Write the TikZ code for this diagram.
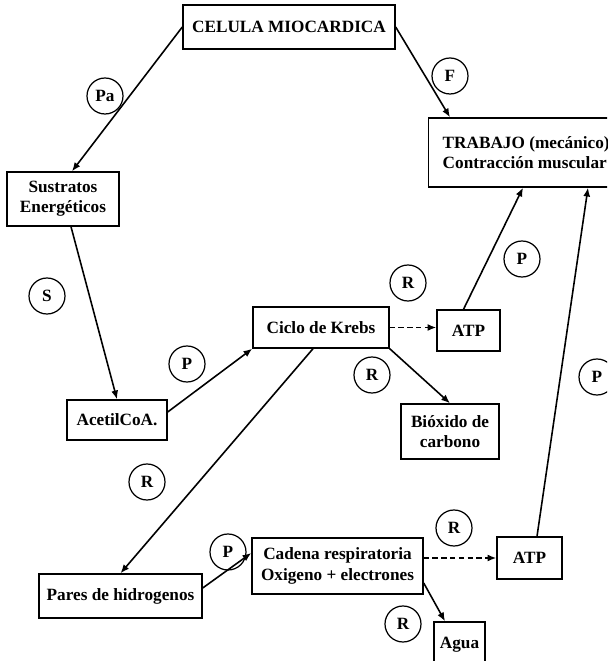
\documentclass[tikz,border=0pt]{standalone}
\usepackage{fontspec}
\setmainfont{Liberation Serif}
\usepackage{tikz}
\usetikzlibrary{arrows.meta}

\begin{document}
\begin{tikzpicture}[
    box/.style={draw, line width=0.8pt, font=\bfseries\fontsize{9.8}{11.6}\selectfont, align=center, inner sep=1pt},
    tag/.style={draw, circle, line width=0.7pt, minimum size=0.72cm, inner sep=0pt, font=\bfseries\fontsize{9.8}{11.6}\selectfont},
    link/.style={line width=0.9pt, -{Latex[length=5pt,width=4pt]}}
  ]
        \useasboundingbox (0,0) rectangle (12.14,13.22);
        \clip (0,0) rectangle (12.14,13.22);
        \node[box, minimum width=4.24cm, minimum height=0.88cm] (celula) at (5.78,12.68) {CELULA MIOCARDICA};
        \node[box, anchor=west, align=left, inner xsep=0.28cm, minimum height=1.38cm] (trabajo) at (8.56,10.17) {TRABAJO (mecánico)\\Contracción muscular};
        \node[box, minimum width=2.24cm, minimum height=1.08cm] (sustratos) at (1.26,9.24) {Sustratos\\Energéticos};
        \node[box, minimum width=2.0cm, minimum height=0.8cm] (acetil) at (2.34,4.82) {AcetilCoA.};
        \node[box, minimum width=2.72cm, minimum height=0.82cm] (krebs) at (6.42,6.67) {Ciclo de Krebs};
        \node[box, minimum width=1.26cm, minimum height=0.82cm] (atpA) at (9.37,6.61) {ATP};
        \node[box, minimum width=1.96cm, minimum height=1.1cm] (bioxido) at (9.00,4.59) {Bióxido de\\carbono};
        \node[box, minimum width=3.26cm, minimum height=0.88cm] (pares) at (2.41,1.30) {Pares de hidrogenos};
        \node[box, minimum width=3.42cm, minimum height=1.12cm] (cadena) at (6.75,1.90) {Cadena respiratoria\\Oxigeno + electrones};
        \node[box, minimum width=1.3cm, minimum height=0.84cm] (atpB) at (10.59,2.06) {ATP};
        \node[box, minimum width=1.02cm, minimum height=0.92cm] (agua) at (9.19,0.32) {Agua};

        \node[tag] (tagPa) at (2.10,11.30) {Pa};
        \node[tag] (tagF) at (9.00,11.70) {F};
        \node[tag] (tagS) at (0.94,7.30) {S};
        \node[tag] (tagPacetil) at (3.74,5.94) {P};
        \node[tag] (tagRkrebs) at (8.16,7.56) {R};
        \node[tag] (tagPatpA) at (10.44,8.04) {P};
        \node[tag] (tagPatpB) at (11.94,5.68) {P};
        \node[tag] (tagRbiox) at (7.44,5.72) {R};
        \node[tag] (tagRpares) at (2.94,3.58) {R};
        \node[tag] (tagPcadena) at (4.56,2.18) {P};
        \node[tag] (tagRatpB) at (9.08,2.66) {R};
        \node[tag] (tagRagua) at (8.06,0.74) {R};

        \draw[link] (celula.west) -- ([xshift=0.18cm]sustratos.north);
        \draw[link] (celula.east) -- ([xshift=0.44cm]trabajo.north west);
        \draw[link] ([xshift=0.16cm]sustratos.south) -- (acetil.north);
        \draw[link] ([yshift=0.16cm]acetil.east) -- (krebs.south west);
        \draw[link, densely dashed] (krebs.east) -- (krebs.east -| atpA.west);
        \draw[link] (krebs.south east) -- (bioxido.north);
        \draw[link] ([xshift=-0.16cm]krebs.south) -- (pares.north);
        \draw[link] ([xshift=-0.1cm]atpA.north) -- ([xshift=1.9cm]trabajo.south west);
        \draw[link] ([yshift=0.16cm]pares.east) -- ([yshift=0.26cm]cadena.west);
        \draw[link, densely dashed] (cadena.east |- atpB.west) -- (atpB.west);
        \draw[link] ([yshift=-0.34cm]cadena.east) -- ([xshift=-0.29cm]agua.north);
        \draw[link] ([xshift=0.15cm]atpB.north) -- ([xshift=3.2cm]trabajo.south west);
      \end{tikzpicture}
\end{document}
